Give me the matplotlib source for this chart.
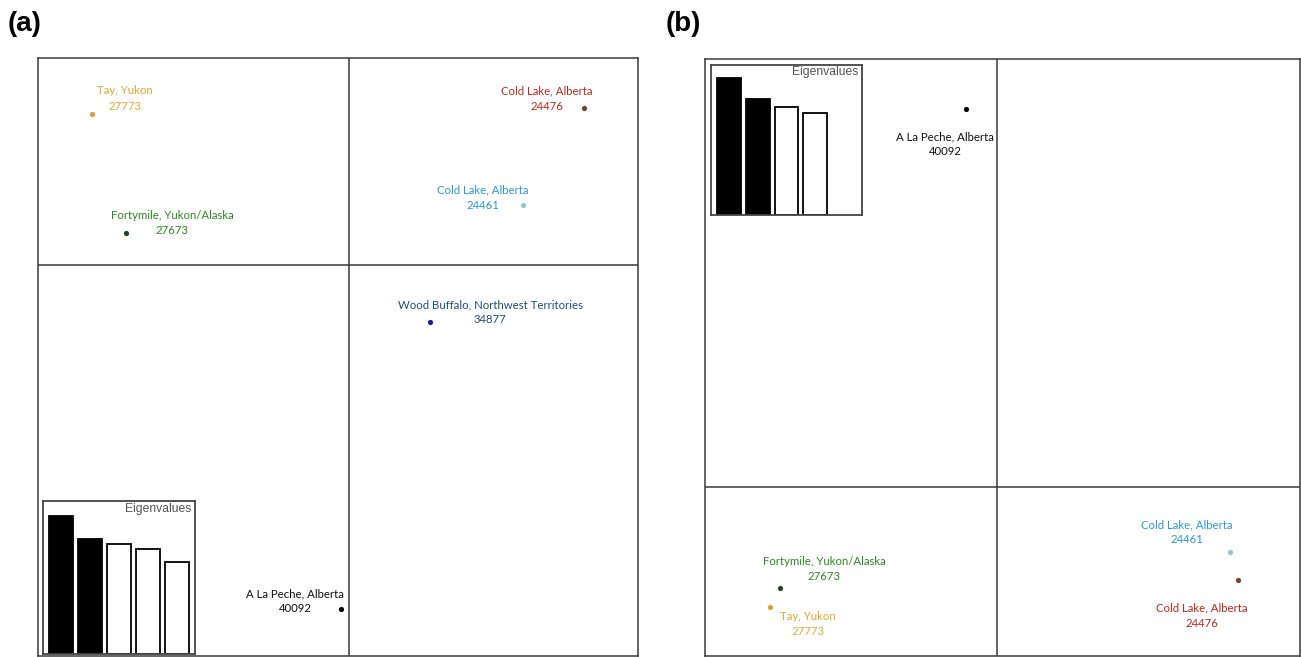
import matplotlib
matplotlib.use("Agg")
import matplotlib.pyplot as plt

# ---------------- data ----------------
# Panel (a): PCA scores (PC1, PC2)
a_names = ["Tay, Yukon", "Fortymile, Yukon/Alaska", "Cold Lake, Alberta",
           "Cold Lake, Alberta", "Wood Buffalo, Northwest Territories",
           "A La Peche, Alberta"]
a_ids = ["27773", "27673", "24476", "24461", "34877", "40092"]
a_x = [-2.57, -2.23, 2.35, 1.74, 0.81, -0.08]
a_y = [1.51, 0.32, 1.57, 0.60, -0.57, -3.44]
a_eig = [138, 115, 110, 105, 92]

# Panel (b): PCA scores without Wood Buffalo
b_names = ["A La Peche, Alberta", "Fortymile, Yukon/Alaska", "Tay, Yukon",
           "Cold Lake, Alberta", "Cold Lake, Alberta"]
b_ids = ["40092", "27673", "27773", "24461", "24476"]
b_x = [-0.31, -2.17, -2.27, 2.33, 2.41]
b_y = [3.78, -1.01, -1.20, -0.65, -0.93]
b_eig = [137, 116, 108, 102]

# ---------------- styles ----------------
text_col = {"27773": "#E9A632", "27673": "#2B8A1F", "24476": "#C2281C",
            "24461": "#2A98DA", "34877": "#1D4F80", "40092": "#111111"}
dot_col = {"27773": "#D9A040", "27673": "#174A1A", "24476": "#7A4222",
           "24461": "#8CC6D6", "34877": "#1B1B9C", "40092": "#000000"}
a_off = [(33, 15.5), (46, 10), (-37, 9.5), (-40, 7.5), (60, 10), (-46, 8)]
b_off = [(-21, -35), (44, 19), (38, -17), (-43, 20), (-36, -35.5)]

W, H = 1301, 657
fig = plt.figure(figsize=(W / 100, H / 100), dpi=100)
FONT = "Lato"
FRAME = "#3a3a3a"


def px_axes(x0, y0, x1, y1):
    return fig.add_axes([x0 / W, 1 - y1 / H, (x1 - x0) / W, (y1 - y0) / H])


def panel(box, xlim, ylim, xs, ys, names, ids, offs):
    ax = px_axes(*box)
    ax.set_xlim(*xlim)
    ax.set_ylim(*ylim)
    ax.set_xticks([])
    ax.set_yticks([])
    for s in ax.spines.values():
        s.set_color(FRAME)
        s.set_linewidth(1.1)
    ax.axhline(0, color=FRAME, lw=1.1)
    ax.axvline(0, color=FRAME, lw=1.1)
    for x, y, n, i, o in zip(xs, ys, names, ids, offs):
        ax.scatter([x], [y], s=14, color=dot_col[i], zorder=3, lw=0)
        ax.annotate(f"{n}\n{i}", (x, y), xytext=o, textcoords="offset pixels",
                    ha="center", va="center", multialignment="center",
                    fontsize=8.2, family=FONT, color=text_col[i],
                    linespacing=1.45)
    return ax


def eig_inset(box, vals):
    ax = px_axes(*box)
    pos = list(range(len(vals)))
    cols = ["black" if k < 2 else "white" for k in pos]
    ax.bar(pos, vals, width=0.83, color=cols, edgecolor="black", lw=1.3)
    ax.set_xlim(-0.62, 4.62)
    ax.set_ylim(0, box[3] - box[1])
    ax.set_xticks([])
    ax.set_yticks([])
    for s in ax.spines.values():
        s.set_color("#444444")
        s.set_linewidth(1.3)
    ax.text(0.975, 0.99, "Eigenvalues", transform=ax.transAxes, ha="right",
            va="top", fontsize=8.7, family="Liberation Sans", color="#555555")


panel((38, 58, 638, 656), (-3.11, 2.89), (-3.91, 2.07),
      a_x, a_y, a_names, a_ids, a_off)
eig_inset((43, 501, 195, 654), a_eig)

panel((705, 59, 1300, 656), (-2.92, 3.03), (-1.69, 4.28),
      b_x, b_y, b_names, b_ids, b_off)
eig_inset((711, 65, 862, 215), b_eig)

fig.text(8 / W, 1 - 24 / H, "(a)", fontsize=20, fontweight="bold",
         family="Liberation Sans", va="center", ha="left")
fig.text(666 / W, 1 - 24 / H, "(b)", fontsize=20, fontweight="bold",
         family="Liberation Sans", va="center", ha="left")

fig.savefig("out.png", dpi=100)
